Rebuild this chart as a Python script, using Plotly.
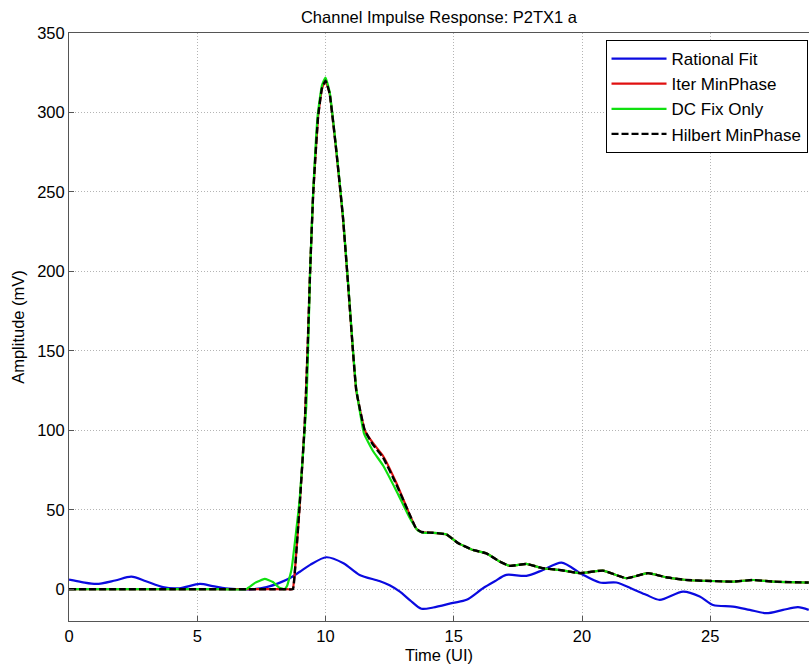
import plotly.graph_objects as go

# ---- data ----
rational_x = [0, 0.5, 1.07, 1.8, 2.43, 3.0, 3.66, 4.3, 5.1, 5.6, 6.1, 6.7, 7.2, 7.7, 8.2, 8.6, 9.0, 9.4,
              10.03, 10.7, 11.33, 12.1, 12.5, 12.9, 13.3, 13.74, 14.2, 14.97, 15.5, 16.14, 16.6, 17.05,
              17.83, 18.48, 19.2, 19.98, 20.69, 21.34, 21.99, 22.5, 23.03, 23.94, 24.59, 25.11, 25.89,
              26.54, 27.19, 27.84, 28.42, 28.84]
rational_y = [6, 4.5, 3.3, 5.5, 7.9, 5, 1.3, 0.6, 3.3, 2, 0.6, 0, 0, 1.3, 4, 6.9, 11, 15.3,
              20.1, 16.4, 9, 5.2, 2.5, -1.5, -7, -12.3, -11.5, -8.6, -6.7, 0.6, 5, 9,
              8.4, 12.1, 16.7, 9.6, 4.2, 4.2, 0, -3.5, -6.7, -1.5, -4.6, -9.9, -10.9,
              -13, -15.1, -13, -11.3, -13]

hilbert_x = [0, 2, 4, 6, 8, 8.5, 8.73, 8.8, 8.99, 9.19, 9.3, 9.4, 9.52, 9.71, 9.86, 10.0, 10.16, 10.42,
             10.68, 10.88, 11.07, 11.2, 11.53, 11.85, 12.24, 12.76, 13.28, 13.54, 13.74, 14.19, 14.71,
             15.17, 15.75, 16.27, 16.79, 17.18, 17.83, 18.48, 19.13, 19.91, 20.82, 21.73, 22.57, 23.29,
             24.07, 24.98, 25.89, 26.67, 27.45, 28.84]
hilbert_y = [0, 0, 0, 0, 0, 0, 0, 10, 52, 104, 150, 200, 249, 297, 315, 320, 312, 276,
             234, 192, 150, 125, 100, 91, 83, 66, 47, 38, 36, 35.5, 34.5,
             29, 24.7, 22.6, 17.4, 14.7, 15.9, 13.2, 12.1, 10.1, 11.7, 6.9, 10.1, 7.5,
             5.8, 5.2, 4.8, 5.8, 4.8, 4.2]

iter_x = [0, 2, 4, 6, 8, 8.5, 8.72, 8.8, 8.99, 9.19, 9.3, 9.4, 9.52, 9.71, 9.86, 10.0, 10.16, 10.42,
          10.68, 10.88, 11.07, 11.2, 11.53, 11.85, 12.24, 12.76, 13.28, 13.54, 13.74, 14.19, 14.71,
          15.17, 15.75, 16.27, 16.79, 17.18, 17.83, 18.48, 19.13, 19.91, 20.82, 21.73, 22.57, 23.29,
          24.07, 24.98, 25.89, 26.67, 27.45, 28.84]
iter_y = [0, 0, 0, 0, 0, 0, 0, 10, 52, 104, 150, 200, 249, 297, 315, 320, 312, 276,
          234, 192, 150, 125, 100, 92, 84, 67, 47, 38, 36, 35.5, 34.5,
          29, 24.7, 22.6, 17.4, 14.7, 15.9, 13.2, 12.1, 10.1, 11.7, 6.9, 10.1, 7.5,
          5.8, 5.2, 4.8, 5.8, 4.8, 4.2]

dcfix_x = [0, 2, 4, 6, 6.9, 7.25, 7.63, 7.95, 8.2, 8.4, 8.5, 8.67, 8.99, 9.25, 9.32, 9.4, 9.52, 9.7,
           9.86, 10.0, 10.16, 10.42, 10.68, 10.88, 11.07, 11.2, 11.5, 11.85, 12.24, 12.76, 13.28, 13.6,
           13.8, 14.19, 14.71, 15.17, 15.75, 16.27, 16.79, 17.18, 17.83, 18.48, 19.13, 19.91, 20.82,
           21.73, 22.57, 23.29, 24.07, 24.98, 25.89, 26.67, 27.45, 28.84]
dcfix_y = [0, 0, 0, 0, 0, 4, 6.5, 4.5, 1, 0, 2, 12, 56, 115, 150, 200, 250, 299,
           317, 322, 313, 277, 235, 193, 151, 126, 98, 87, 78, 62, 45, 37,
           35.5, 35.5, 34.5, 29, 24.7, 22.6, 17.4, 14.7, 15.9, 13.2, 12.1, 10.1, 11.7,
           6.9, 10.1, 7.5, 5.8, 5.2, 4.8, 5.8, 4.8, 4.2]

x_ticks = [0, 5, 10, 15, 20, 25]
y_ticks = [0, 50, 100, 150, 200, 250, 300, 350]

FONT = "Liberation Sans, Arial, Helvetica, sans-serif"

fig = go.Figure()
fig.add_trace(go.Scatter(x=rational_x, y=rational_y, mode="lines", name="Rational Fit",
                         line=dict(color="#0a0ae0", width=2.2, shape="spline", smoothing=0.8)))
fig.add_trace(go.Scatter(x=iter_x, y=iter_y, mode="lines", name="Iter MinPhase",
                         line=dict(color="#e01010", width=2.2, shape="spline", smoothing=0.35)))
fig.add_trace(go.Scatter(x=dcfix_x, y=dcfix_y, mode="lines", name="DC Fix Only",
                         line=dict(color="#10e010", width=2.2, shape="spline", smoothing=0.35)))
fig.add_trace(go.Scatter(x=hilbert_x, y=hilbert_y, mode="lines", name="Hilbert MinPhase",
                         line=dict(color="black", width=2.4, dash="7px,3px", shape="spline", smoothing=0.35)))

fig.update_layout(
    width=809, height=669,
    margin=dict(l=69, r=0, t=33, b=48, autoexpand=False),
    paper_bgcolor="white", plot_bgcolor="white",
    font=dict(family=FONT, size=16.5, color="black"),
    title=dict(text="Channel Impulse Response: P2TX1 a", x=0.5, xref="paper", xanchor="center",
               y=1 - 17 / 669, yref="container", yanchor="middle",
               font=dict(family=FONT, size=16.5, color="black")),
    showlegend=True,
    legend=dict(x=0.998, xanchor="right", y=0.988, yanchor="top",
                bgcolor="white", bordercolor="black", borderwidth=1,
                font=dict(family=FONT, size=17, color="black"),
                itemwidth=55, tracegroupgap=0),
)
fig.update_xaxes(range=[0, 28.85], tickvals=x_ticks, ticktext=[str(v) for v in x_ticks],
                 showgrid=True, gridcolor="#b4b4b4", griddash="1px,2px", gridwidth=1,
                 zeroline=False, showline=True, linecolor="#555555", linewidth=1, mirror=True,
                 ticks="inside", ticklen=5, tickcolor="#555555",
                 title=dict(text="Time (UI)", standoff=5, font=dict(family=FONT, size=16.5)))
fig.update_yaxes(range=[-20, 350], tickvals=y_ticks, ticktext=[str(v) for v in y_ticks],
                 showgrid=True, gridcolor="#b4b4b4", griddash="1px,2px", gridwidth=1,
                 zeroline=False, showline=True, linecolor="#555555", linewidth=1, mirror=False,
                 ticks="inside", ticklen=5, tickcolor="#555555",
                 title=dict(text="Amplitude (mV)", standoff=8, font=dict(family=FONT, size=16.5)))

fig.write_html("out.html")
